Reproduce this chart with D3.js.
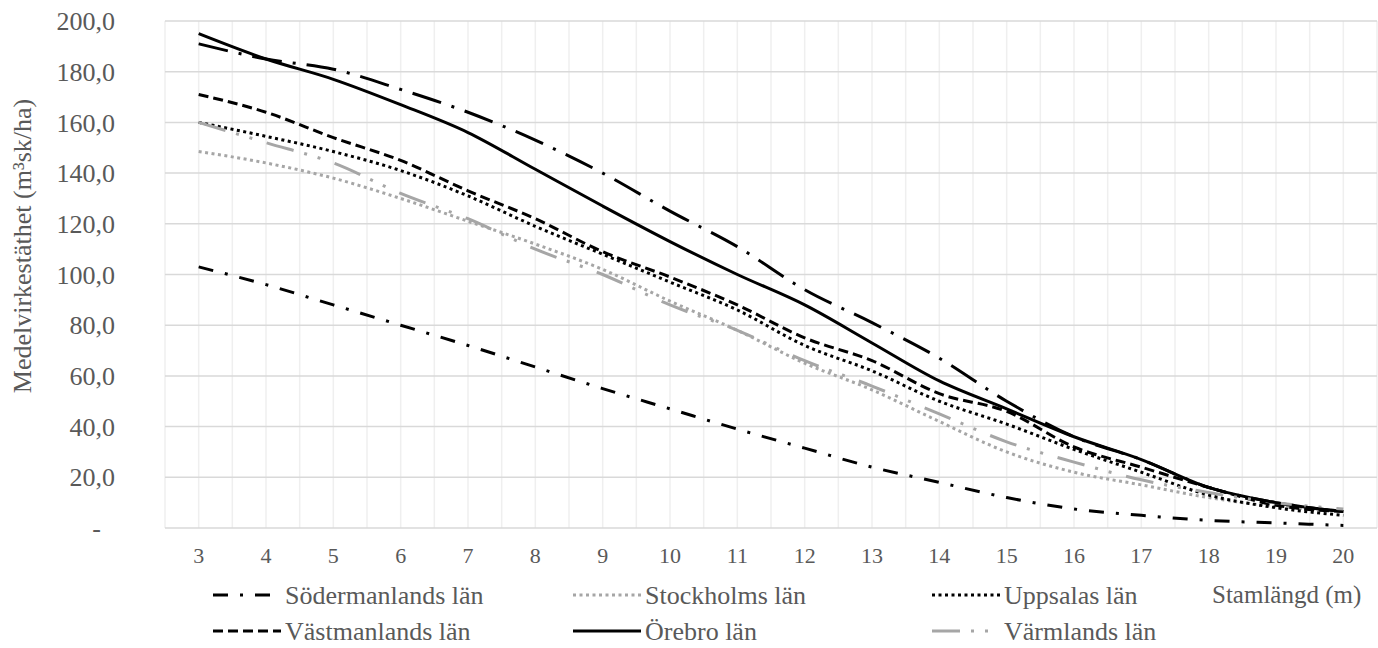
<!DOCTYPE html>
<html>
<head>
<meta charset="utf-8">
<script src="https://cdn.jsdelivr.net/npm/d3@7"></script>
<style>
  body { margin: 0; background: #fff; }
  text { font-family: "Liberation Serif", "Times New Roman", serif; fill: #595959; }
</style>
</head>
<body>
<div id="chart"></div>
<script>
// stem length classes (m)
const categories = [3, 4, 5, 6, 7, 8, 9, 10, 11, 12, 13, 14, 15, 16, 17, 18, 19, 20];
const yTicks = [0, 20, 40, 60, 80, 100, 120, 140, 160, 180, 200];

// medelvirkestäthet (m3sk/ha) per län
const sodermanland = [103, 96, 88, 80, 72, 63.5, 55, 47, 39, 31.5, 24, 18, 12, 7.5, 5, 3, 2, 1];
const stockholm    = [148.5, 144, 138, 130, 121, 112, 102, 89.5, 78, 65, 54.5, 42, 30, 22, 17, 12, 8.5, 7];
const uppsala      = [160, 154.5, 148.5, 141, 131, 119, 108, 97, 86, 72, 62, 50, 41, 31, 22, 13, 8, 5];
const vastmanland  = [171, 164, 154, 145, 133, 122, 109, 99, 88, 75, 66, 53, 46, 32, 24, 16, 9, 6.5];
const orebro       = [195, 185, 177, 167, 156, 141.5, 127, 113, 100, 88, 73, 58, 47, 36, 27, 16, 10, 6.5];
const varmland     = [160, 152, 144, 132, 122, 110, 100, 88, 78, 66, 56, 45, 34, 26, 19, 14, 10, 7.5];
// seventh line in the figure, no legend entry
const unlabeled    = [191, 185, 181, 173, 164, 153, 140, 125, 111, 94, 81, 67, 50, 36, 27, 16, 10, 6.5];

const series = [
  {name: "Södermanlands län", values: sodermanland, color: "#000", dash: "15,12,3,12", legend: [0, 0]},
  {name: "Stockholms län", values: stockholm, color: "#a6a6a6", dash: "3,3.5", legend: [0, 1]},
  {name: "Uppsalas län", values: uppsala, color: "#000", dash: "3,3.5", legend: [0, 2]},
  {name: "Västmanlands län", values: vastmanland, color: "#000", dash: "10,5", legend: [1, 0]},
  {name: "Örebro län", values: orebro, color: "#000", dash: null, legend: [1, 1]},
  {name: "Värmlands län", values: varmland, color: "#a6a6a6", dash: "28,11,3,11,3,15", legend: [1, 2]},
  {name: "", values: unlabeled, color: "#000", dash: "30,11,3,11", legend: null}
];

const W = 1378, H = 648;
const plot = {left: 165, right: 1377, top: 21, bottom: 528};

const svg = d3.select("#chart").append("svg")
  .attr("width", W)
  .attr("height", H);

const x = d3.scaleBand().domain(categories).range([plot.left, plot.right]).padding(0);
const bw = x.bandwidth();
const cx = c => x(c) + bw / 2;

const y = d3.scaleLinear().domain([0, 200]).range([plot.bottom, plot.top]);

// vertical gridlines: band edges and centres
const vLines = [];
categories.forEach(c => { vLines.push(x(c)); vLines.push(cx(c)); });
vLines.push(x(categories[categories.length - 1]) + bw);

svg.append("g")
  .selectAll("line")
  .data(vLines)
  .join("line")
    .attr("x1", d => d).attr("x2", d => d)
    .attr("y1", plot.top).attr("y2", plot.bottom)
    .attr("stroke", "#efefef")
    .attr("stroke-width", 1.5);

svg.append("g")
  .selectAll("line")
  .data(yTicks)
  .join("line")
    .attr("x1", plot.left).attr("x2", plot.right)
    .attr("y1", d => y(d)).attr("y2", d => y(d))
    .attr("stroke", "#d9d9d9")
    .attr("stroke-width", 1.5);

// y axis labels (zero shown as a dash, accounting style)
const fmt = d => d === 0 ? "-" : d3.format(".1f")(d).replace(".", ",");
svg.append("g")
  .selectAll("text")
  .data(yTicks)
  .join("text")
    .attr("x", d => d === 0 ? 101 : 115)
    .attr("y", d => y(d))
    .attr("dy", "0.35em")
    .attr("text-anchor", "end")
    .attr("font-size", 26)
    .text(fmt);

// x axis labels
svg.append("g")
  .selectAll("text")
  .data(categories)
  .join("text")
    .attr("x", d => cx(d))
    .attr("y", 555)
    .attr("dy", "0.35em")
    .attr("text-anchor", "middle")
    .attr("font-size", 22)
    .text(d => d);

svg.append("text")
  .attr("transform", "translate(31,246) rotate(-90)")
  .attr("text-anchor", "middle")
  .attr("font-size", 26)
  .text("Medelvirkestäthet (m³sk/ha)");

svg.append("text")
  .attr("x", 1212)
  .attr("y", 594)
  .attr("dy", "0.35em")
  .attr("font-size", 25)
  .text("Stamlängd (m)");

const line = d3.line()
  .x((d, i) => cx(categories[i]))
  .y(d => y(d))
  .curve(d3.curveMonotoneX);

svg.append("g")
  .selectAll("path")
  .data(series)
  .join("path")
    .attr("d", d => line(d.values))
    .attr("fill", "none")
    .attr("stroke", d => d.color)
    .attr("stroke-width", 3)
    .attr("stroke-linejoin", "round")
    .attr("stroke-dasharray", d => d.dash);

// legend: three equal columns, two rows
const legX = [213, 573, 932];
const legY = [595, 631];
const sampleLen = 68;
const leg = svg.append("g")
  .selectAll("g")
  .data(series.filter(s => s.legend))
  .join("g")
    .attr("transform", d => `translate(${legX[d.legend[1]]},${legY[d.legend[0]]})`);

leg.append("line")
  .attr("x1", 0)
  .attr("x2", sampleLen)
  .attr("stroke", d => d.color)
  .attr("stroke-width", 3)
  .attr("stroke-dasharray", d => d.dash);

leg.append("text")
  .attr("x", sampleLen + 4)
  .attr("dy", "0.35em")
  .attr("font-size", 26)
  .text(d => d.name);
</script>
</body>
</html>
